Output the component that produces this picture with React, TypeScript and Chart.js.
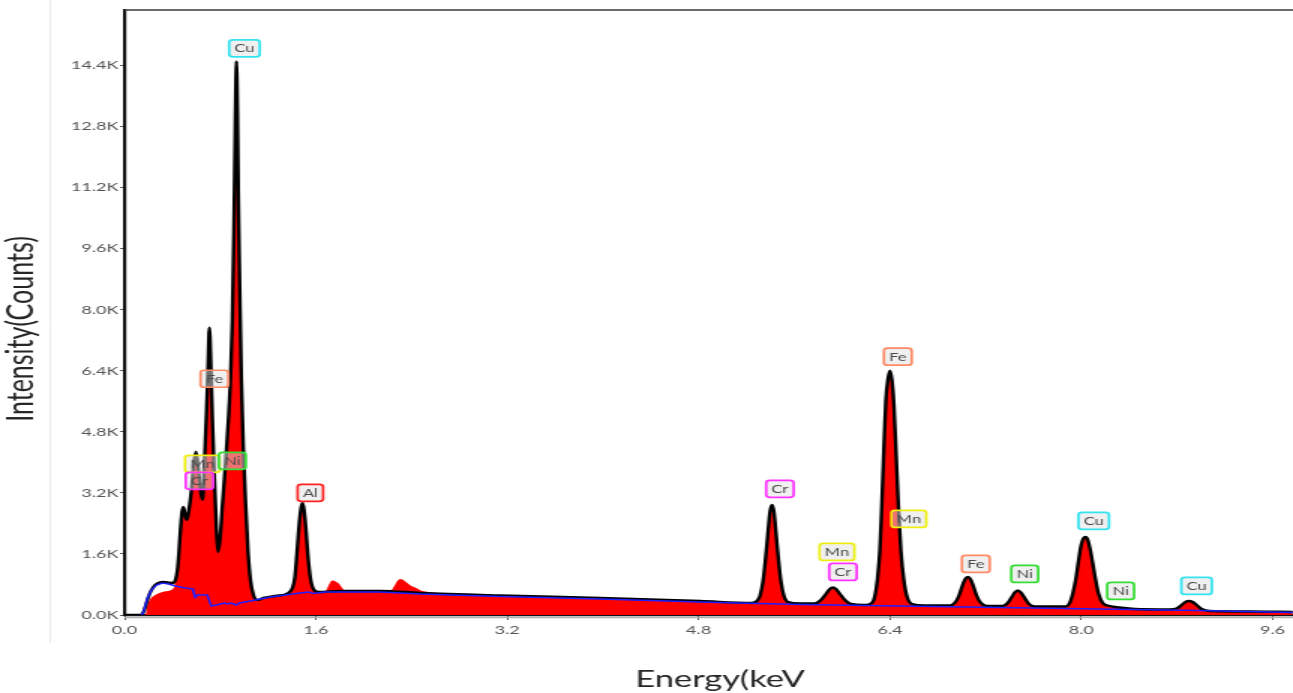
import { useEffect, useRef } from 'react';
import { Chart, registerables } from 'chart.js';

Chart.register(...registerables);

// ---- Fitted spectrum (black line): energy in keV, intensity in counts ----
const fitEnergy = [
  0, 0.134, 0.159, 0.184, 0.209, 0.242, 0.276, 0.317, 0.359, 0.401,
  0.426, 0.443, 0.455, 0.468, 0.480, 0.493, 0.510, 0.522, 0.539, 0.560,
  0.576, 0.597, 0.614, 0.635, 0.652, 0.668, 0.685, 0.698, 0.710, 0.723,
  0.735, 0.752, 0.769, 0.781, 0.798, 0.819, 0.844, 0.869, 0.886, 0.902,
  0.915, 0.927, 0.936, 0.944, 0.952, 0.965, 0.977, 0.994, 1.011, 1.032,
  1.053, 1.078, 1.111, 1.161, 1.261, 1.370, 1.404, 1.424, 1.441, 1.458,
  1.475, 1.487, 1.500, 1.516, 1.533, 1.554, 1.579, 1.621, 1.805, 2.139,
  2.473, 3.141, 3.977, 4.812, 5.246, 5.288, 5.313, 5.338, 5.359, 5.380,
  5.397, 5.414, 5.430, 5.447, 5.468, 5.489, 5.514, 5.547, 5.648, 5.773,
  5.823, 5.865, 5.898, 5.923, 5.948, 5.982, 6.023, 6.073, 6.190, 6.249,
  6.274, 6.295, 6.316, 6.332, 6.349, 6.366, 6.383, 6.399, 6.416, 6.433,
  6.450, 6.470, 6.491, 6.516, 6.541, 6.583, 6.692, 6.901, 6.942, 6.976,
  7.005, 7.030, 7.051, 7.072, 7.097, 7.126, 7.160, 7.210, 7.343, 7.385,
  7.419, 7.444, 7.469, 7.494, 7.527, 7.561, 7.611, 7.870, 7.903, 7.928,
  7.953, 7.978, 7.999, 8.020, 8.037, 8.054, 8.075, 8.095, 8.120, 8.145,
  8.179, 8.237, 8.321, 8.446, 8.739, 8.797, 8.839, 8.872, 8.897, 8.931,
  8.964, 9.006, 9.073, 9.407, 9.766,
];
const fitCounts = [
  0, 0, 79, 315, 551, 734, 826, 866, 852, 839,
  918, 1180, 1626, 2230, 2675, 2833, 2571, 2492, 2754, 3279,
  3856, 4275, 3935, 3279, 3016, 3935, 5246, 6426, 7528, 6426,
  5115, 3541, 2230, 1652, 1967, 2885, 3935, 5115, 6164, 7738,
  10099, 12984, 14505, 13246, 10885, 8262, 6164, 4328, 3016, 1705,
  918, 525, 393, 446, 498, 577, 708, 971, 1574, 2282,
  2780, 2938, 2780, 2282, 1574, 971, 682, 603, 630, 630,
  577, 511, 446, 367, 315, 367, 498, 866, 1443, 2151,
  2702, 2885, 2702, 2151, 1443, 866, 498, 341, 302, 302,
  393, 551, 682, 721, 682, 551, 393, 289, 262, 315,
  498, 918, 1705, 2885, 4328, 5639, 6164, 6400, 6164, 5508,
  4328, 2885, 1705, 918, 498, 289, 249, 249, 315, 498,
  761, 944, 997, 944, 761, 498, 315, 236, 236, 315,
  472, 590, 643, 590, 446, 289, 223, 223, 315, 551,
  918, 1443, 1836, 2020, 2046, 1967, 1705, 1364, 918, 551,
  315, 236, 197, 157, 144, 170, 262, 341, 367, 341,
  262, 157, 105, 92, 79,
];

// ---- Background (blue line) ----
const bgEnergy = [
  0.142, 0.159, 0.192, 0.226, 0.267, 0.317, 0.368, 0.426, 0.510, 0.568,
  0.576, 0.593, 0.610, 0.660, 0.693, 0.710, 0.727, 0.769, 0.802, 0.835,
  0.860, 0.886, 0.911, 0.936, 0.961, 1.053, 1.220, 1.470, 1.537, 1.579,
  1.679, 2.139, 2.473, 3.141, 3.977, 4.812, 5.648, 6.483, 7.318, 8.154,
  8.989, 9.766,
];
const bgCounts = [
  0, 79, 446, 656, 787, 839, 813, 761, 708, 682,
  603, 472, 525, 525, 525, 367, 236, 262, 289, 315,
  289, 315, 289, 262, 315, 367, 472, 577, 603, 564,
  603, 603, 551, 485, 420, 341, 275, 236, 197, 157,
  118, 66,
];

// ---- Measured spectrum (red fill): where it departs from the fit ----
const rawLowEnergy = [0.0, 0.175, 0.192, 0.217, 0.250, 0.292, 0.342, 0.384, 0.418];
const rawLowCounts = [0, 0, 260, 420, 510, 577, 620, 650, 760];
const rawBump1Energy = [1.679, 1.704, 1.729, 1.746, 1.771, 1.796, 1.821, 1.846];
const rawBump1Counts = [620, 761, 892, 905, 866, 813, 708, 630];
const rawBump2Energy = [2.222, 2.256, 2.281, 2.306, 2.331, 2.364, 2.398, 2.440, 2.498];
const rawBump2Counts = [630, 761, 892, 944, 918, 839, 761, 708, 620];

// ---- Axis ticks ----
const xTicks = [0, 1.6, 3.2, 4.8, 6.4, 8.0, 9.6];
const yTicks = [0, 1600, 3200, 4800, 6400, 8000, 9600, 11200, 12800, 14400];
const X_MAX = 9.77;
const Y_MAX = 15850;

// ---- Peak labels ----
const peakNames = ['Cu', 'Fe', 'Mn', 'Cr', 'Ni', 'Al', 'Cr', 'Mn', 'Cr', 'Fe', 'Mn', 'Fe', 'Ni', 'Cu', 'Ni', 'Cu'];
const peakLabelEnergy = [1.003, 0.752, 0.652, 0.627, 0.902, 1.554, 5.480, 5.957, 6.007, 6.466, 6.558, 7.118, 7.527, 8.104, 8.329, 8.964];
const peakLabelCounts = [14846, 6190, 3961, 3515, 4039, 3200, 3305, 1652, 1128, 6767, 2518, 1338, 1075, 2466, 630, 761];

const elementColors: Record<string, string> = {
  Cu: '#33e3f0',
  Fe: '#ff8a66',
  Mn: '#eeee10',
  Cr: '#ff33ff',
  Ni: '#33dd33',
  Al: '#ff2222',
};

const W = 1293;
const H = 693;
const STRETCH = 1.5;
const IW = Math.round(W / STRETCH);

const toPoints = (xs: number[], ys: number[]) => {
  const n = Math.min(xs.length, ys.length);
  const out: { x: number; y: number }[] = [];
  for (let i = 0; i < n; i++) out.push({ x: xs[i], y: ys[i] });
  return out;
};

function measuredPoints() {
  const segments: [number[], number[]][] = [
    [rawLowEnergy, rawLowCounts],
    [rawBump1Energy, rawBump1Counts],
    [rawBump2Energy, rawBump2Counts],
  ];
  const fit = toPoints(fitEnergy, fitCounts).filter(
    (p) => !segments.some(([e]) => p.x >= e[0] && p.x <= e[e.length - 1])
  );
  const extra = segments.flatMap(([e, c]) => toPoints(e, c));
  return [...fit, ...extra].sort((a, b) => a.x - b.x);
}

const decorPlugin = {
  id: 'decor',
  beforeDraw(chart: any) {
    const { ctx } = chart;
    ctx.save();
    ctx.fillStyle = '#ffffff';
    ctx.fillRect(0, 0, chart.width, chart.height);
    // faint outer frame line at left
    ctx.strokeStyle = '#ececec';
    ctx.lineWidth = 1;
    ctx.beginPath();
    ctx.moveTo(33.5, 0);
    ctx.lineTo(33.5, 643);
    ctx.stroke();
    ctx.restore();
  },
  afterDatasetsDraw(chart: any) {
    const { ctx, scales } = chart;
    const xs = scales.x;
    const ys = scales.y;
    ctx.save();
    ctx.font = '11px Lato';
    ctx.textAlign = 'center';
    ctx.textBaseline = 'middle';
    for (let i = 0; i < peakNames.length; i++) {
      const name = peakNames[i];
      const cx = xs.getPixelForValue(peakLabelEnergy[i]);
      const cy = ys.getPixelForValue(peakLabelCounts[i]);
      const tw = ctx.measureText(name).width;
      const w = tw + 7;
      const h = 17;
      const x0 = cx - w / 2;
      const y0 = cy - h / 2;
      const r = 2.5;
      ctx.beginPath();
      ctx.moveTo(x0 + r, y0);
      ctx.lineTo(x0 + w - r, y0);
      ctx.quadraticCurveTo(x0 + w, y0, x0 + w, y0 + r);
      ctx.lineTo(x0 + w, y0 + h - r);
      ctx.quadraticCurveTo(x0 + w, y0 + h, x0 + w - r, y0 + h);
      ctx.lineTo(x0 + r, y0 + h);
      ctx.quadraticCurveTo(x0, y0 + h, x0, y0 + h - r);
      ctx.lineTo(x0, y0 + r);
      ctx.quadraticCurveTo(x0, y0, x0 + r, y0);
      ctx.closePath();
      ctx.fillStyle = 'rgba(225,225,225,0.5)';
      ctx.fill();
      ctx.strokeStyle = elementColors[name];
      ctx.lineWidth = 1.7;
      ctx.stroke();
      ctx.fillStyle = '#4a4a4a';
      ctx.fillText(name, cx, cy + 0.5);
    }
    ctx.restore();
  },
  afterDraw(chart: any) {
    const { ctx, chartArea } = chart;
    ctx.save();
    // top frame line
    ctx.strokeStyle = '#3a3a3a';
    ctx.lineWidth = 1.3;
    ctx.beginPath();
    ctx.moveTo(chartArea.left, chartArea.top);
    ctx.lineTo(chartArea.right, chartArea.top);
    ctx.stroke();
    // light line under the x axis
    ctx.strokeStyle = '#b0b0b0';
    ctx.lineWidth = 1.2;
    ctx.beginPath();
    ctx.moveTo(chartArea.left, chartArea.bottom + 2.6);
    ctx.lineTo(chartArea.right, chartArea.bottom + 2.6);
    ctx.stroke();
    // axis titles
    ctx.fillStyle = '#262626';
    ctx.textAlign = 'center';
    ctx.textBaseline = 'middle';
    ctx.font = '23px Lato';
    ctx.fillText('Energy(keV', 480, 680);
    ctx.font = '25px Lato';
    ctx.translate(13.5, 329);
    ctx.rotate(-Math.PI / 2);
    ctx.fillText('Intensity(Counts)', 0, 0);
    ctx.restore();
  },
};

export default function App() {
  const ref = useRef<HTMLCanvasElement | null>(null);

  useEffect(() => {
    const canvas = ref.current;
    if (!canvas) return;
    const chart = new Chart(canvas, {
      type: 'line',
      data: {
        datasets: [
          {
            label: 'Background',
            data: toPoints(bgEnergy, bgCounts),
            borderColor: '#1f1fff',
            borderWidth: 1.5,
            pointRadius: 0,
            fill: false,
            tension: 0,
          },
          {
            label: 'Fit',
            data: toPoints(fitEnergy, fitCounts),
            borderColor: '#000000',
            borderWidth: 2.4,
            pointRadius: 0,
            fill: false,
            cubicInterpolationMode: 'monotone',
          },
          {
            label: 'Spectrum',
            data: measuredPoints(),
            borderColor: 'rgba(0,0,0,0)',
            borderWidth: 0,
            backgroundColor: '#ff0000',
            pointRadius: 0,
            fill: 'origin',
            cubicInterpolationMode: 'monotone',
          },
        ],
      },
      options: {
        responsive: false,
        animation: false,
        devicePixelRatio: 1,
        events: [],
        layout: { padding: { top: 10, left: 0, right: 0, bottom: 0 } },
        plugins: {
          legend: { display: false },
          tooltip: { enabled: false },
          title: { display: false },
        },
        scales: {
          x: {
            type: 'linear',
            min: 0,
            max: X_MAX,
            afterBuildTicks: (s: any) => {
              s.ticks = xTicks.map((v) => ({ value: v }));
            },
            afterFit: (s: any) => {
              s.height = H - 615;
            },
            grid: {
              display: true,
              drawOnChartArea: false,
              drawTicks: true,
              tickLength: 5,
              tickColor: '#555',
              tickWidth: 1,
            },
            border: { display: true, color: '#151515', width: 2.2 },
            ticks: {
              color: '#555555',
              font: { family: 'Lato', size: 12 },
              padding: 3,
              maxRotation: 0,
              autoSkip: false,
              callback: (v: any) => Number(v).toFixed(1),
            },
          },
          y: {
            type: 'linear',
            min: 0,
            max: Y_MAX,
            afterBuildTicks: (s: any) => {
              s.ticks = yTicks.map((v) => ({ value: v }));
            },
            afterFit: (s: any) => {
              s.width = 83;
            },
            grid: {
              display: true,
              drawOnChartArea: false,
              drawTicks: true,
              tickLength: 3,
              tickColor: '#555',
              tickWidth: 1,
            },
            border: { display: true, color: '#111111', width: 2.2 },
            ticks: {
              color: '#555555',
              font: { family: 'Lato', size: 12 },
              padding: 1,
              autoSkip: false,
              callback: (v: any) => (Number(v) / 1000).toFixed(1) + 'K',
            },
          },
        },
      } as any,
      plugins: [decorPlugin],
    });
    return () => chart.destroy();
  }, []);

  return (
    <div style={{ position: 'fixed', left: 0, top: 0, width: W, height: H, background: '#ffffff' }}>
      <canvas
        ref={ref}
        width={IW}
        height={H}
        style={{ width: W + 'px', height: H + 'px', display: 'block' }}
      />
    </div>
  );
}
